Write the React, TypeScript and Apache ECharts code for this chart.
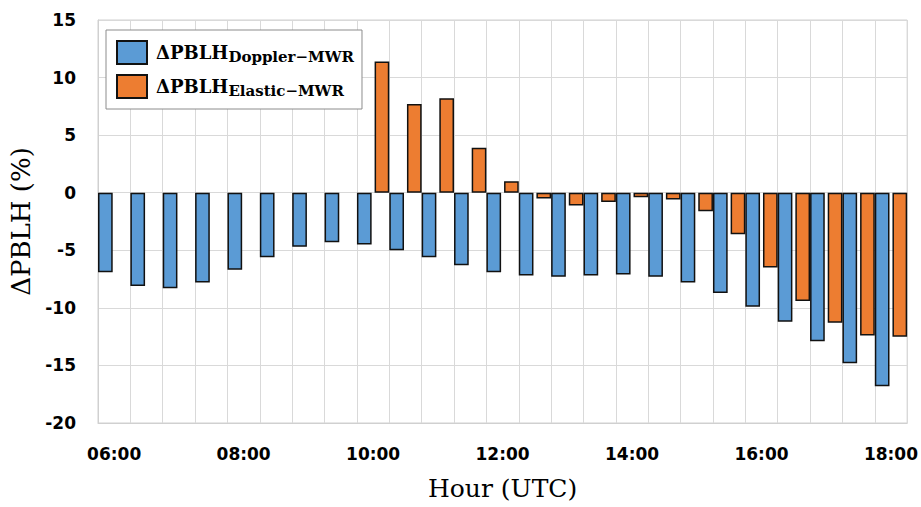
import React, { useEffect, useRef } from "react";
import * as echarts from "echarts";

const hours: string[] = [
  "06:00", "06:30", "07:00", "07:30", "08:00", "08:30", "09:00", "09:30",
  "10:00", "10:30", "11:00", "11:30", "12:00", "12:30", "13:00", "13:30",
  "14:00", "14:30", "15:00", "15:30", "16:00", "16:30", "17:00", "17:30", "18:00",
];

const dopplerMwr: number[] = [
  -6.9, -8.1, -8.3, -7.8, -6.7, -5.6, -4.7, -4.3,
  -4.5, -5.0, -5.6, -6.3, -6.9, -7.2, -7.3, -7.2,
  -7.1, -7.3, -7.8, -8.7, -9.9, -11.2, -12.9, -14.8, -16.8,
];

const elasticMwr: (number | null)[] = [
  null, null, null, null, null, null, null, null,
  11.4, 7.7, 8.2, 3.9, 1.0, -0.5, -1.1, -0.8,
  -0.4, -0.6, -1.6, -3.6, -6.5, -9.4, -11.3, -12.4, -12.5,
];

const seriesNames: string[] = ["ΔPBLH Doppler−MWR", "ΔPBLH Elastic−MWR"];
const legendSubs: string[] = ["Doppler−MWR", "Elastic−MWR"];

const yTicks = { min: -20, max: 15, interval: 5 };

export default function App() {
  const ref = useRef<HTMLDivElement>(null);

  useEffect(() => {
    if (!ref.current) return;
    const chart = echarts.init(ref.current, undefined, { renderer: "svg" });
    const gridColor = "#d9d9d9";
    chart.setOption({
      animation: false,
      backgroundColor: "#ffffff",
      grid: {
        left: 98,
        right: 12,
        top: 20,
        bottom: 84,
        show: true,
        borderColor: "#d0d0d0",
        borderWidth: 1,
      },
      legend: {
        orient: "vertical",
        left: 106,
        top: 30,
        padding: [10, 8, 10, 10],
        itemWidth: 30,
        itemHeight: 23,
        itemGap: 9,
        backgroundColor: "#ffffff",
        borderColor: "#8c8c8c",
        borderWidth: 1,
        borderRadius: 0,
        icon: "rect",
        data: seriesNames,
        formatter: (name: string) => {
          const i = seriesNames.indexOf(name);
          return `{m|ΔPBLH}{s|${legendSubs[i]}}`;
        },
        textStyle: {
          color: "#000",
          rich: {
            m: {
              fontFamily: "DejaVu Serif",
              fontWeight: "bold",
              fontSize: 18,
              lineHeight: 22,
              padding: [0, 0, 0, 4],
              color: "#000",
            },
            s: {
              fontFamily: "DejaVu Serif",
              fontWeight: "bold",
              fontSize: 15,
              lineHeight: 15,
              padding: [8, 0, 0, 0],
              color: "#000",
            },
          },
        },
      },
      xAxis: {
        type: "category",
        data: hours,
        boundaryGap: true,
        name: "Hour (UTC)",
        nameLocation: "middle",
        nameGap: 53,
        nameTextStyle: {
          fontFamily: "DejaVu Serif",
          fontSize: 25,
          color: "#000",
        },
        axisLine: { show: true, onZero: false, lineStyle: { color: "#d0d0d0" } },
        axisTick: { show: false },
        axisLabel: {
          interval: 3,
          margin: 22,
          fontFamily: "DejaVu Sans",
          fontWeight: "bold",
          fontSize: 17,
          color: "#000",
        },
        splitLine: { show: true, interval: 0, lineStyle: { color: gridColor, width: 1 } },
      },
      yAxis: {
        type: "value",
        min: yTicks.min,
        max: yTicks.max,
        interval: yTicks.interval,
        name: "ΔPBLH (%)",
        nameLocation: "middle",
        nameGap: 54,
        nameTextStyle: {
          fontFamily: "DejaVu Serif",
          fontSize: 26,
          color: "#000",
        },
        axisLine: { show: true, lineStyle: { color: "#d0d0d0" } },
        axisTick: { show: false },
        axisLabel: {
          margin: 22,
          fontFamily: "DejaVu Sans",
          fontWeight: "bold",
          fontSize: 17,
          color: "#000",
        },
        splitLine: { show: true, lineStyle: { color: gridColor, width: 1 } },
      },
      series: [
        {
          name: seriesNames[0],
          type: "bar",
          data: dopplerMwr,
          barGap: "20%",
          barCategoryGap: "0%",
          itemStyle: { color: "#5B9BD5", borderColor: "#111", borderWidth: 1.5 },
        },
        {
          name: seriesNames[1],
          type: "bar",
          data: elasticMwr,
          barGap: "20%",
          barCategoryGap: "0%",
          itemStyle: { color: "#ED7D31", borderColor: "#111", borderWidth: 1.5 },
        },
      ],
    });
    return () => chart.dispose();
  }, []);

  return <div ref={ref} style={{ width: 921, height: 507, position: "absolute", left: 0, top: 0 }} />;
}
